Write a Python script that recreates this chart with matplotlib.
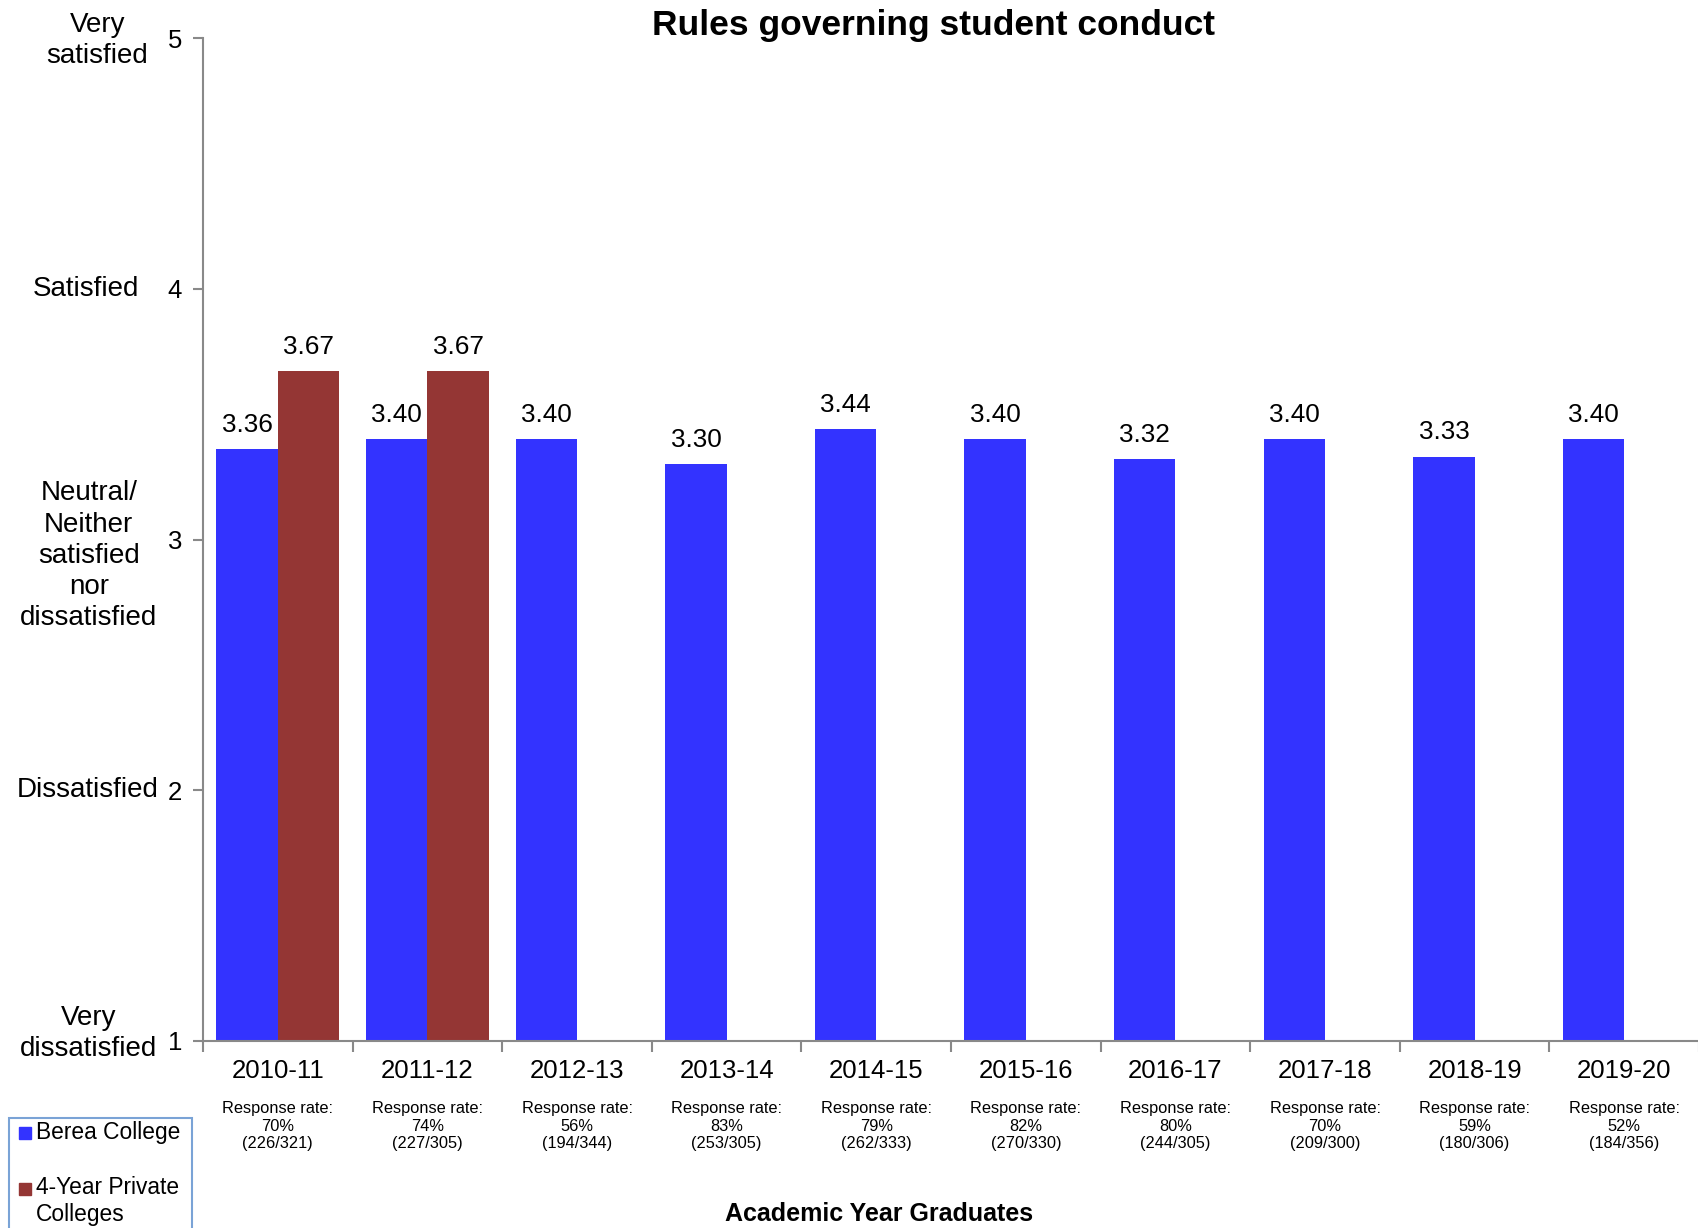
import matplotlib.pyplot as plt
from matplotlib.patches import Rectangle
from matplotlib.transforms import blended_transform_factory
import numpy as np

years = ["2010-11", "2011-12", "2012-13", "2013-14", "2014-15",
         "2015-16", "2016-17", "2017-18", "2018-19", "2019-20"]
berea = [3.36, 3.40, 3.40, 3.30, 3.44, 3.40, 3.32, 3.40, 3.33, 3.40]
private = [3.67, 3.67]  # only reported for the first two years
rates = ["70%", "74%", "56%", "83%", "79%", "82%", "80%", "70%", "59%", "52%"]
counts = ["(226/321)", "(227/305)", "(194/344)", "(253/305)", "(262/333)",
          "(270/330)", "(244/305)", "(209/300)", "(180/306)", "(184/356)"]
scale_values = [1, 2, 3, 4, 5]
scale_labels = ["Very\ndissatisfied", "Dissatisfied",
                "Neutral/\nNeither\nsatisfied\nnor\ndissatisfied",
                "Satisfied", "Very\nsatisfied"]

BLUE = "#3333FF"
RED = "#943634"
GRAY = "#898989"
REG = ["Liberation Sans", "DejaVu Sans"]

W, H = 1699, 1228
fig = plt.figure(figsize=(W / 100, H / 100), dpi=100)
ax = fig.add_axes([203 / W, 1 - 1041 / H, 1 - 203 / W, (1041 - 38) / H])

x = np.arange(len(years))
bw = 0.41
ax.bar(x - 0.205, berea, width=bw, color=BLUE)
ax.bar(x[:len(private)] + 0.205, private, width=bw, color=RED)

for xi, v in zip(x, berea):
    ax.annotate(f"{v:.2f}", (xi - 0.205, v), xytext=(0, 17.5), textcoords="offset points",
                ha="center", va="center", fontsize=18.8, family=REG)
for xi, v in zip(x, private):
    ax.annotate(f"{v:.2f}", (xi + 0.205, v), xytext=(0, 17.5), textcoords="offset points",
                ha="center", va="center", fontsize=18.8, family=REG)

ax.set_ylim(1, 5)
ax.set_xlim(-0.5, 9.44)
for s in ["top", "right"]:
    ax.spines[s].set_visible(False)
for s in ["left", "bottom"]:
    ax.spines[s].set_color(GRAY)
    ax.spines[s].set_linewidth(1.5)

ax.set_yticks(scale_values)
ax.set_yticklabels([str(v) for v in scale_values], fontsize=18.5, family=REG)
ax.tick_params(axis="y", length=7, width=1.5, color=GRAY, pad=8)

ax.set_xticks(np.arange(-0.5, 10, 1))
ax.set_xticklabels([])
ax.tick_params(axis="x", length=8, width=1.5, color=GRAY)

# category labels and response rates
tx = blended_transform_factory(ax.transData, fig.transFigure)
for xi, yr, r, c in zip(x, years, rates, counts):
    ax.text(xi, 1 - 1071 / H, yr, transform=tx, ha="center", va="center",
            fontsize=18.5, family=REG)
    ax.text(xi, 1 - 1101 / H, f"Response rate:\n{r}\n{c}", transform=tx,
            ha="center", va="top", fontsize=11.8, family=REG, linespacing=1.22)

# satisfaction scale labels
ty = blended_transform_factory(fig.transFigure, ax.transData)
label_x = [0.0523, 0.0517, 0.0523, 0.0504, 0.0574]
label_y = [1.03, 2.0, 2.935, 4.0, 4.99]
for lx, ly, lab in zip(label_x, label_y, scale_labels):
    ax.text(lx, ly, lab, transform=ty, ha="center", va="center",
            fontsize=20, family=REG, linespacing=1.26)

fig.text(934 / W, 1 - 26 / H, "Rules governing student conduct", ha="center",
         va="center", fontsize=25.5, weight="bold", family=REG)
fig.text(879 / W, 1 - 1214 / H, "Academic Year Graduates", ha="center",
         va="center", fontsize=18, weight="bold", family=REG)

# legend box, cut off by the bottom edge as in the original
fig.patches.append(Rectangle((9 / W, -0.02), 183 / W, 0.02 + 1 - 1118 / H,
                             transform=fig.transFigure, fill=False,
                             edgecolor="#7aa3d6", linewidth=1.5))
fig.patches.append(Rectangle((19 / W, 1 - 1139 / H), 12 / W, 12 / H,
                             transform=fig.transFigure, color=BLUE))
fig.patches.append(Rectangle((19 / W, 1 - 1195 / H), 12 / W, 12 / H,
                             transform=fig.transFigure, color=RED))
fig.text(36 / W, 1 - 1133 / H, "Berea College", ha="left", va="center",
         fontsize=16.4, family=REG)
fig.text(36 / W, 1 - 1201 / H, "4-Year Private\nColleges", ha="left", va="center",
         fontsize=16.4, family=REG, linespacing=1.18)

fig.savefig("out.png", dpi=100)
